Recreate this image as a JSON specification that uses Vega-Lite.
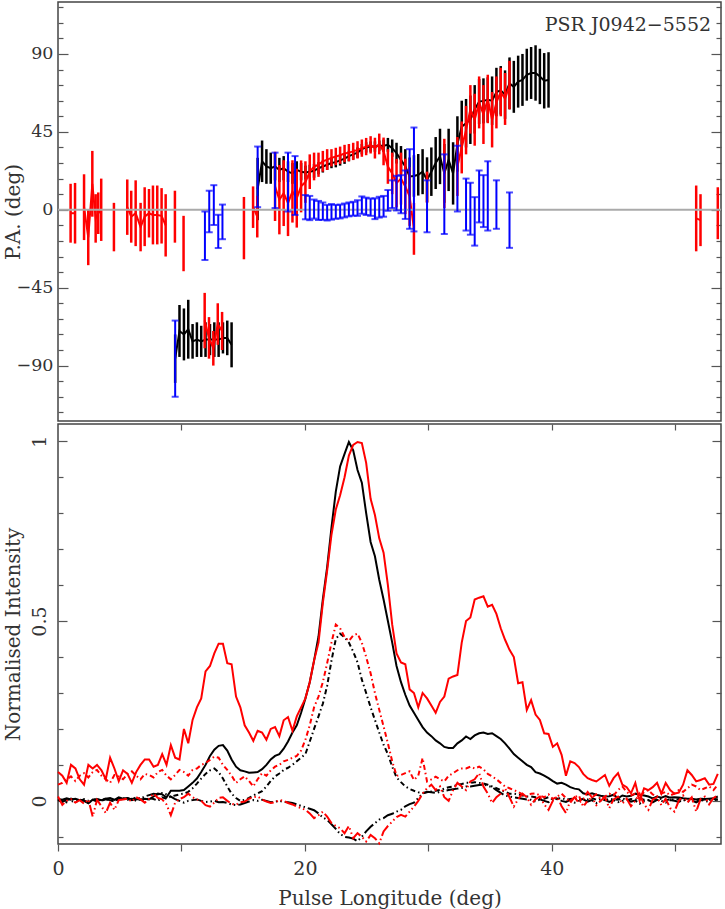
{
"$schema":"https://vega.github.io/schema/vega-lite/v6.json",
"background":"white",
"padding":{"left":2,"top":1,"right":3,"bottom":2},
"spacing":0,
"config":{"view":{"stroke":"#444","strokeWidth":1.5},"font":"DejaVu Serif",
"axis":{"labelFont":"DejaVu Serif","titleFont":"DejaVu Serif","labelColor":"#333","titleColor":"#333","titleFontWeight":"normal","domain":false,"grid":false,"tickColor":"#555","tickWidth":1.2,"labelFlush":false}},
"datasets":{
"pa":[
{"s":"r","g":1,"x":1.02,"pa":-2,"e":17},{"s":"r","g":1,"x":1.38,"pa":-2,"e":17.5},
{"s":"r","g":2,"x":2.11,"pa":1.5,"e":19},{"s":"r","g":2,"x":2.45,"pa":-16,"e":16},{"s":"r","g":2,"x":2.78,"pa":15,"e":19},{"s":"r","g":2,"x":3.05,"pa":-5,"e":14},{"s":"r","g":2,"x":3.26,"pa":-2,"e":12},{"s":"r","g":2,"x":3.5,"pa":0,"e":18},
{"s":"r","g":3,"x":4.53,"pa":-10,"e":14},
{"s":"r","g":4,"x":5.61,"pa":1.5,"e":16},{"s":"r","g":4,"x":5.93,"pa":-4,"e":15},{"s":"r","g":4,"x":6.29,"pa":-2,"e":19},{"s":"r","g":4,"x":6.69,"pa":-10,"e":14},{"s":"r","g":4,"x":7.02,"pa":-4,"e":17},{"s":"r","g":4,"x":7.37,"pa":-2,"e":14},{"s":"r","g":4,"x":7.69,"pa":-3,"e":17},{"s":"r","g":4,"x":8.04,"pa":-3,"e":17},{"s":"r","g":4,"x":8.39,"pa":-3.5,"e":16},{"s":"r","g":4,"x":8.72,"pa":-9,"e":18},
{"s":"r","g":5,"x":9.47,"pa":-4,"e":15},
{"s":"r","g":6,"x":10.17,"pa":-19.5,"e":16},
{"s":"r","g":7,"x":11.88,"pa":-64,"e":16},{"s":"r","g":7,"x":12.23,"pa":-74,"e":12},{"s":"r","g":7,"x":12.58,"pa":-80,"e":10},{"s":"r","g":7,"x":12.94,"pa":-66,"e":12},{"s":"r","g":7,"x":13.29,"pa":-70,"e":11},
{"s":"r","g":8,"x":15.06,"pa":-10.6,"e":18},
{"s":"r","g":9,"x":15.8,"pa":1.5,"e":12},{"s":"r","g":9,"x":16.14,"pa":-4,"e":12},
{"s":"r","g":10,"x":17.58,"pa":13.5,"e":20},{"s":"r","g":10,"x":17.93,"pa":5.8,"e":20},{"s":"r","g":10,"x":18.28,"pa":9.6,"e":19},{"s":"r","g":10,"x":18.63,"pa":3.8,"e":19},{"s":"r","g":10,"x":18.99,"pa":10.6,"e":18},{"s":"r","g":10,"x":19.34,"pa":6.7,"e":17},{"s":"r","g":10,"x":19.69,"pa":13.5,"e":15},{"s":"r","g":10,"x":20.04,"pa":16,"e":12},{"s":"r","g":10,"x":20.39,"pa":22,"e":10},{"s":"r","g":10,"x":20.74,"pa":25,"e":8},{"s":"r","g":10,"x":21.1,"pa":26,"e":7},{"s":"r","g":10,"x":21.45,"pa":28,"e":6},{"s":"r","g":10,"x":21.8,"pa":29,"e":6},{"s":"r","g":10,"x":22.15,"pa":30,"e":5},{"s":"r","g":10,"x":22.5,"pa":30.8,"e":5},{"s":"r","g":10,"x":22.85,"pa":31.5,"e":5},{"s":"r","g":10,"x":23.21,"pa":32.5,"e":5},{"s":"r","g":10,"x":23.56,"pa":33,"e":5},{"s":"r","g":10,"x":23.91,"pa":33.7,"e":5},{"s":"r","g":10,"x":24.26,"pa":34.6,"e":5},{"s":"r","g":10,"x":24.61,"pa":35.6,"e":5},{"s":"r","g":10,"x":24.96,"pa":36.5,"e":5},{"s":"r","g":10,"x":25.32,"pa":37.5,"e":5},{"s":"r","g":10,"x":25.67,"pa":35.6,"e":6},{"s":"r","g":10,"x":26.02,"pa":38,"e":6},{"s":"r","g":10,"x":26.37,"pa":33.7,"e":8},{"s":"r","g":10,"x":26.72,"pa":25,"e":10},{"s":"r","g":10,"x":27.07,"pa":21,"e":12},{"s":"r","g":10,"x":27.42,"pa":15.4,"e":14},{"s":"r","g":10,"x":27.78,"pa":18,"e":15},{"s":"r","g":10,"x":28.13,"pa":13.5,"e":16},{"s":"r","g":10,"x":28.48,"pa":7.7,"e":17},{"s":"r","g":10,"x":28.83,"pa":-11,"e":15},
{"s":"r","g":11,"x":29.89,"pa":13,"e":9},
{"s":"r","g":12,"x":31.29,"pa":21,"e":20},
{"s":"r","g":13,"x":32.35,"pa":25,"e":17},{"s":"r","g":13,"x":32.7,"pa":36,"e":15},{"s":"r","g":13,"x":33.05,"pa":46,"e":14},{"s":"r","g":13,"x":33.4,"pa":58,"e":14},{"s":"r","g":13,"x":33.75,"pa":52,"e":15},{"s":"r","g":13,"x":34.11,"pa":62,"e":15},{"s":"r","g":13,"x":34.46,"pa":55,"e":17},{"s":"r","g":13,"x":34.81,"pa":64,"e":14},{"s":"r","g":13,"x":35.16,"pa":52,"e":16},{"s":"r","g":13,"x":35.51,"pa":62,"e":15},{"s":"r","g":13,"x":35.86,"pa":68,"e":14},{"s":"r","g":13,"x":36.21,"pa":64,"e":15},{"s":"r","g":13,"x":36.57,"pa":72,"e":14},
{"s":"r","g":14,"x":51.69,"pa":-5,"e":19},{"s":"r","g":14,"x":52.04,"pa":-6,"e":15},
{"s":"r","g":15,"x":53.44,"pa":-2,"e":15},
{"s":"k","g":20,"x":9.49,"pa":-86,"e":14},{"s":"k","g":20,"x":9.84,"pa":-70,"e":15},{"s":"k","g":20,"x":10.2,"pa":-72,"e":15},{"s":"k","g":20,"x":10.55,"pa":-69,"e":17},{"s":"k","g":20,"x":10.9,"pa":-76,"e":10},{"s":"k","g":20,"x":11.25,"pa":-75,"e":10},{"s":"k","g":20,"x":11.6,"pa":-76,"e":9},{"s":"k","g":20,"x":11.95,"pa":-75,"e":10},{"s":"k","g":20,"x":12.31,"pa":-75,"e":9},{"s":"k","g":20,"x":12.66,"pa":-75,"e":10},{"s":"k","g":20,"x":13.01,"pa":-75,"e":10},{"s":"k","g":20,"x":13.36,"pa":-74,"e":9},{"s":"k","g":20,"x":13.71,"pa":-74,"e":10},{"s":"k","g":20,"x":14.06,"pa":-78,"e":13},
{"s":"k","g":21,"x":16.17,"pa":12,"e":18},{"s":"k","g":21,"x":16.53,"pa":28,"e":12},{"s":"k","g":21,"x":16.88,"pa":25,"e":10},{"s":"k","g":21,"x":17.23,"pa":24,"e":9},{"s":"k","g":21,"x":17.58,"pa":25,"e":8},{"s":"k","g":21,"x":17.93,"pa":23,"e":7},{"s":"k","g":21,"x":18.28,"pa":24,"e":7},{"s":"k","g":21,"x":18.63,"pa":22,"e":6},{"s":"k","g":21,"x":18.99,"pa":21,"e":6},{"s":"k","g":21,"x":19.34,"pa":23,"e":5},{"s":"k","g":21,"x":19.69,"pa":22,"e":5},{"s":"k","g":21,"x":20.04,"pa":21.5,"e":4},{"s":"k","g":21,"x":20.39,"pa":22,"e":4},{"s":"k","g":21,"x":20.74,"pa":22.5,"e":4},{"s":"k","g":21,"x":21.1,"pa":24,"e":3.5},{"s":"k","g":21,"x":21.45,"pa":25,"e":3.5},{"s":"k","g":21,"x":21.8,"pa":26,"e":3},{"s":"k","g":21,"x":22.15,"pa":27,"e":3},{"s":"k","g":21,"x":22.5,"pa":27.5,"e":3},{"s":"k","g":21,"x":22.85,"pa":28.5,"e":3},{"s":"k","g":21,"x":23.21,"pa":29.5,"e":3},{"s":"k","g":21,"x":23.56,"pa":31,"e":3},{"s":"k","g":21,"x":23.91,"pa":32,"e":3},{"s":"k","g":21,"x":24.26,"pa":33,"e":3},{"s":"k","g":21,"x":24.61,"pa":35,"e":3},{"s":"k","g":21,"x":24.96,"pa":36,"e":3},{"s":"k","g":21,"x":25.32,"pa":36.5,"e":3},{"s":"k","g":21,"x":25.67,"pa":36.5,"e":3},{"s":"k","g":21,"x":26.02,"pa":37,"e":3},{"s":"k","g":21,"x":26.37,"pa":37,"e":3.5},{"s":"k","g":21,"x":26.72,"pa":37.5,"e":4},{"s":"k","g":21,"x":27.07,"pa":35.6,"e":5},{"s":"k","g":21,"x":27.42,"pa":32.7,"e":6},{"s":"k","g":21,"x":27.78,"pa":28.8,"e":8},{"s":"k","g":21,"x":28.13,"pa":25,"e":10},{"s":"k","g":21,"x":28.48,"pa":19.2,"e":11},{"s":"k","g":21,"x":28.83,"pa":19.5,"e":12},{"s":"k","g":21,"x":29.18,"pa":20.2,"e":12},{"s":"k","g":21,"x":29.53,"pa":22,"e":13},{"s":"k","g":21,"x":29.89,"pa":17.3,"e":13},{"s":"k","g":21,"x":30.24,"pa":22,"e":14},{"s":"k","g":21,"x":30.59,"pa":27,"e":15},{"s":"k","g":21,"x":30.94,"pa":30.8,"e":16},{"s":"k","g":21,"x":31.29,"pa":21,"e":17},{"s":"k","g":21,"x":31.64,"pa":28.8,"e":18},{"s":"k","g":21,"x":32.0,"pa":21,"e":18},{"s":"k","g":21,"x":32.35,"pa":38,"e":16},{"s":"k","g":21,"x":32.7,"pa":48,"e":15},{"s":"k","g":21,"x":33.05,"pa":50,"e":14},{"s":"k","g":21,"x":33.4,"pa":52,"e":14},{"s":"k","g":21,"x":33.75,"pa":58,"e":14},{"s":"k","g":21,"x":34.11,"pa":62.5,"e":13},{"s":"k","g":21,"x":34.46,"pa":62.9,"e":13},{"s":"k","g":21,"x":34.81,"pa":63.5,"e":13},{"s":"k","g":21,"x":35.16,"pa":63,"e":14},{"s":"k","g":21,"x":35.51,"pa":68,"e":14},{"s":"k","g":21,"x":35.86,"pa":69,"e":14},{"s":"k","g":21,"x":36.21,"pa":66.5,"e":14},{"s":"k","g":21,"x":36.57,"pa":73,"e":15},{"s":"k","g":21,"x":36.92,"pa":71,"e":15},{"s":"k","g":21,"x":37.27,"pa":74,"e":15},{"s":"k","g":21,"x":37.62,"pa":75,"e":15},{"s":"k","g":21,"x":37.97,"pa":78,"e":15},{"s":"k","g":21,"x":38.32,"pa":79,"e":15},{"s":"k","g":21,"x":38.68,"pa":79,"e":16},{"s":"k","g":21,"x":39.03,"pa":77,"e":16},{"s":"k","g":21,"x":39.38,"pa":74.5,"e":16},{"s":"k","g":21,"x":39.73,"pa":75,"e":16},
{"s":"b","g":30,"x":9.49,"pa":-86,"e":22},
{"s":"b","g":30,"x":11.9,"pa":-15,"e":14},{"s":"b","g":30,"x":12.25,"pa":-1,"e":12},{"s":"b","g":30,"x":12.62,"pa":2.7,"e":11.5},{"s":"b","g":30,"x":12.98,"pa":-12.5,"e":9.6},{"s":"b","g":30,"x":13.32,"pa":-7,"e":10},
{"s":"b","g":30,"x":16.17,"pa":19,"e":17.5},{"s":"b","g":30,"x":17.58,"pa":17,"e":16},{"s":"b","g":30,"x":18.63,"pa":16,"e":17},{"s":"b","g":30,"x":19.2,"pa":14,"e":17},
{"s":"b","g":30,"x":20.04,"pa":1.5,"e":7},{"s":"b","g":30,"x":20.39,"pa":1,"e":7},{"s":"b","g":30,"x":20.74,"pa":0.4,"e":5.5},{"s":"b","g":30,"x":21.1,"pa":-0.4,"e":5.5},{"s":"b","g":30,"x":21.45,"pa":-0.8,"e":5},{"s":"b","g":30,"x":21.8,"pa":-1.7,"e":4.5},{"s":"b","g":30,"x":22.15,"pa":-1.2,"e":4.5},{"s":"b","g":30,"x":22.5,"pa":-1.2,"e":4},{"s":"b","g":30,"x":22.85,"pa":-1,"e":4},{"s":"b","g":30,"x":23.21,"pa":-0.4,"e":4},{"s":"b","g":30,"x":23.56,"pa":0.2,"e":4},{"s":"b","g":30,"x":23.91,"pa":0.6,"e":4},{"s":"b","g":30,"x":24.26,"pa":1,"e":4.5},{"s":"b","g":30,"x":24.61,"pa":2.7,"e":5},{"s":"b","g":30,"x":24.96,"pa":2,"e":5},{"s":"b","g":30,"x":25.32,"pa":1.5,"e":5},{"s":"b","g":30,"x":25.67,"pa":0.6,"e":6},{"s":"b","g":30,"x":26.02,"pa":1.5,"e":6},{"s":"b","g":30,"x":26.37,"pa":2,"e":6},{"s":"b","g":30,"x":26.72,"pa":5.4,"e":6},{"s":"b","g":30,"x":27.07,"pa":9,"e":8},{"s":"b","g":30,"x":27.42,"pa":9.6,"e":10},{"s":"b","g":30,"x":27.78,"pa":9,"e":11},{"s":"b","g":30,"x":28.13,"pa":8.7,"e":14},{"s":"b","g":30,"x":28.48,"pa":12,"e":23},{"s":"b","g":30,"x":28.83,"pa":17.5,"e":30},
{"s":"b","g":30,"x":29.89,"pa":2,"e":15},{"s":"b","g":30,"x":31.29,"pa":9,"e":23},{"s":"b","g":30,"x":32.35,"pa":18,"e":19},{"s":"b","g":30,"x":33.05,"pa":3,"e":15},{"s":"b","g":30,"x":33.4,"pa":0.6,"e":15},{"s":"b","g":30,"x":33.75,"pa":-6.7,"e":14},{"s":"b","g":30,"x":34.11,"pa":7.7,"e":15},{"s":"b","g":30,"x":34.46,"pa":5,"e":15},{"s":"b","g":30,"x":34.81,"pa":8,"e":20},{"s":"b","g":30,"x":35.51,"pa":3,"e":14},{"s":"b","g":30,"x":36.57,"pa":-6,"e":16}
],
"prof":[
{"x":0,"Ib":0.005,"Ir":0.08,"Lb":0.004,"Lr":0.045,"Vb":0.002,"Vr":0.012},
{"x":0.35,"Ib":0.003,"Ir":0.07,"Lb":0,"Lr":0.05,"Vb":-0.003,"Vr":-0.011},
{"x":0.7,"Ib":0.007,"Ir":0.05,"Lb":-0.004,"Lr":0.06,"Vb":0.004,"Vr":0},
{"x":1.05,"Ib":0.004,"Ir":0.1,"Lb":0.006,"Lr":0.068,"Vb":0,"Vr":0.005},
{"x":1.41,"Ib":0.006,"Ir":0.09,"Lb":0.002,"Lr":0.055,"Vb":-0.004,"Vr":-0.005},
{"x":1.76,"Ib":0.002,"Ir":0.06,"Lb":-0.003,"Lr":0.07,"Vb":0.003,"Vr":0.002},
{"x":2.11,"Ib":0,"Ir":0.045,"Lb":0.005,"Lr":0.077,"Vb":0.001,"Vr":-0.008},
{"x":2.46,"Ib":-0.007,"Ir":0.1,"Lb":0,"Lr":0.065,"Vb":-0.005,"Vr":0.004},
{"x":2.81,"Ib":0.003,"Ir":0.09,"Lb":0.003,"Lr":0.08,"Vb":0.002,"Vr":-0.044},
{"x":3.16,"Ib":0.005,"Ir":0.1,"Lb":-0.002,"Lr":0.086,"Vb":0.005,"Vr":0.003},
{"x":3.52,"Ib":0.002,"Ir":0.085,"Lb":0.004,"Lr":0.07,"Vb":0,"Vr":-0.015},
{"x":3.87,"Ib":0.006,"Ir":0.06,"Lb":0.006,"Lr":0.06,"Vb":0.004,"Vr":-0.034},
{"x":4.22,"Ib":0.008,"Ir":0.12,"Lb":0.002,"Lr":0.05,"Vb":0.002,"Vr":-0.005},
{"x":4.57,"Ib":0.003,"Ir":0.09,"Lb":0,"Lr":0.072,"Vb":-0.002,"Vr":-0.025},
{"x":4.92,"Ib":0.01,"Ir":0.055,"Lb":0.005,"Lr":0.068,"Vb":0.006,"Vr":0.002},
{"x":5.27,"Ib":0.006,"Ir":0.085,"Lb":0.008,"Lr":0.06,"Vb":0.003,"Vr":0.004},
{"x":5.63,"Ib":0.008,"Ir":0.075,"Lb":0.003,"Lr":0.075,"Vb":0.008,"Vr":0.006},
{"x":5.98,"Ib":0.002,"Ir":0.05,"Lb":0.006,"Lr":0.082,"Vb":0.004,"Vr":-0.002},
{"x":6.33,"Ib":0.005,"Ir":0.08,"Lb":0,"Lr":0.07,"Vb":0.01,"Vr":0.01},
{"x":6.68,"Ib":0.003,"Ir":0.1,"Lb":0.004,"Lr":0.06,"Vb":0.006,"Vr":0.004},
{"x":7.03,"Ib":0.006,"Ir":0.115,"Lb":0.002,"Lr":0.075,"Vb":0.012,"Vr":-0.005},
{"x":7.38,"Ib":0.004,"Ir":0.115,"Lb":0.007,"Lr":0.072,"Vb":0.016,"Vr":0.006},
{"x":7.74,"Ib":0.012,"Ir":0.095,"Lb":0.005,"Lr":0.065,"Vb":0.02,"Vr":0.02},
{"x":8.09,"Ib":0.02,"Ir":0.1,"Lb":0,"Lr":0.08,"Vb":0.018,"Vr":0.008},
{"x":8.44,"Ib":0.018,"Ir":0.13,"Lb":0.01,"Lr":0.086,"Vb":0.022,"Vr":0.004},
{"x":8.79,"Ib":0.01,"Ir":0.1,"Lb":0.006,"Lr":0.07,"Vb":0.018,"Vr":-0.01},
{"x":9.14,"Ib":0.028,"Ir":0.155,"Lb":0.012,"Lr":0.06,"Vb":0.012,"Vr":-0.04},
{"x":9.49,"Ib":0.028,"Ir":0.12,"Lb":0.015,"Lr":0.072,"Vb":0.005,"Vr":-0.005},
{"x":9.84,"Ib":0.028,"Ir":0.115,"Lb":0.018,"Lr":0.086,"Vb":0,"Vr":0.005},
{"x":10.2,"Ib":0.03,"Ir":0.2,"Lb":0.02,"Lr":0.08,"Vb":-0.005,"Vr":0.01},
{"x":10.55,"Ib":0.04,"Ir":0.16,"Lb":0.025,"Lr":0.07,"Vb":0,"Vr":0.02},
{"x":10.9,"Ib":0.05,"Ir":0.225,"Lb":0.035,"Lr":0.086,"Vb":0.002,"Vr":0.01},
{"x":11.25,"Ib":0.062,"Ir":0.26,"Lb":0.048,"Lr":0.09,"Vb":0.004,"Vr":0.004},
{"x":11.6,"Ib":0.08,"Ir":0.285,"Lb":0.062,"Lr":0.1,"Vb":0,"Vr":0},
{"x":11.95,"Ib":0.1,"Ir":0.36,"Lb":0.075,"Lr":0.105,"Vb":-0.003,"Vr":-0.012},
{"x":12.31,"Ib":0.125,"Ir":0.375,"Lb":0.085,"Lr":0.114,"Vb":-0.002,"Vr":-0.016},
{"x":12.66,"Ib":0.142,"Ir":0.41,"Lb":0.09,"Lr":0.123,"Vb":0,"Vr":-0.005},
{"x":13.01,"Ib":0.153,"Ir":0.437,"Lb":0.08,"Lr":0.12,"Vb":-0.004,"Vr":0.008},
{"x":13.36,"Ib":0.155,"Ir":0.437,"Lb":0.062,"Lr":0.1,"Vb":-0.003,"Vr":0.01},
{"x":13.71,"Ib":0.14,"Ir":0.383,"Lb":0.04,"Lr":0.086,"Vb":-0.006,"Vr":0},
{"x":14.06,"Ib":0.115,"Ir":0.38,"Lb":0.02,"Lr":0.07,"Vb":-0.01,"Vr":-0.008},
{"x":14.42,"Ib":0.095,"Ir":0.29,"Lb":0.008,"Lr":0.05,"Vb":-0.012,"Vr":-0.011},
{"x":14.77,"Ib":0.085,"Ir":0.26,"Lb":0,"Lr":0.06,"Vb":-0.01,"Vr":-0.004},
{"x":15.12,"Ib":0.082,"Ir":0.21,"Lb":0.003,"Lr":0.068,"Vb":-0.006,"Vr":-0.002},
{"x":15.47,"Ib":0.078,"Ir":0.19,"Lb":0.008,"Lr":0.055,"Vb":-0.002,"Vr":0.006},
{"x":15.82,"Ib":0.079,"Ir":0.167,"Lb":0.015,"Lr":0.04,"Vb":0.002,"Vr":0.01},
{"x":16.17,"Ib":0.08,"Ir":0.195,"Lb":0.021,"Lr":0.06,"Vb":0,"Vr":0.012},
{"x":16.53,"Ib":0.088,"Ir":0.19,"Lb":0.027,"Lr":0.077,"Vb":0.003,"Vr":0.004},
{"x":16.88,"Ib":0.1,"Ir":0.17,"Lb":0.04,"Lr":0.07,"Vb":0,"Vr":-0.002},
{"x":17.23,"Ib":0.115,"Ir":0.2,"Lb":0.055,"Lr":0.085,"Vb":-0.004,"Vr":-0.006},
{"x":17.58,"Ib":0.125,"Ir":0.205,"Lb":0.068,"Lr":0.095,"Vb":-0.002,"Vr":-0.004},
{"x":17.93,"Ib":0.13,"Ir":0.18,"Lb":0.076,"Lr":0.1,"Vb":0,"Vr":0.002},
{"x":18.28,"Ib":0.145,"Ir":0.224,"Lb":0.086,"Lr":0.11,"Vb":-0.003,"Vr":0},
{"x":18.63,"Ib":0.165,"Ir":0.233,"Lb":0.092,"Lr":0.114,"Vb":-0.004,"Vr":-0.006},
{"x":18.99,"Ib":0.19,"Ir":0.195,"Lb":0.1,"Lr":0.12,"Vb":-0.006,"Vr":-0.01},
{"x":19.34,"Ib":0.21,"Ir":0.235,"Lb":0.11,"Lr":0.125,"Vb":-0.01,"Vr":-0.016},
{"x":19.69,"Ib":0.245,"Ir":0.26,"Lb":0.12,"Lr":0.14,"Vb":-0.014,"Vr":-0.02},
{"x":20.04,"Ib":0.285,"Ir":0.285,"Lb":0.13,"Lr":0.17,"Vb":-0.018,"Vr":-0.025},
{"x":20.39,"Ib":0.33,"Ir":0.33,"Lb":0.165,"Lr":0.21,"Vb":-0.022,"Vr":-0.035},
{"x":20.74,"Ib":0.39,"Ir":0.39,"Lb":0.2,"Lr":0.26,"Vb":-0.026,"Vr":-0.048},
{"x":21.1,"Ib":0.457,"Ir":0.44,"Lb":0.235,"Lr":0.29,"Vb":-0.035,"Vr":-0.04},
{"x":21.45,"Ib":0.56,"Ir":0.55,"Lb":0.27,"Lr":0.33,"Vb":-0.046,"Vr":-0.03},
{"x":21.8,"Ib":0.65,"Ir":0.64,"Lb":0.32,"Lr":0.383,"Vb":-0.053,"Vr":-0.044},
{"x":22.15,"Ib":0.76,"Ir":0.74,"Lb":0.39,"Lr":0.44,"Vb":-0.065,"Vr":-0.062},
{"x":22.5,"Ib":0.86,"Ir":0.81,"Lb":0.45,"Lr":0.49,"Vb":-0.078,"Vr":-0.07},
{"x":22.85,"Ib":0.93,"Ir":0.85,"Lb":0.465,"Lr":0.48,"Vb":-0.092,"Vr":-0.076},
{"x":23.21,"Ib":0.965,"Ir":0.9,"Lb":0.455,"Lr":0.455,"Vb":-0.1,"Vr":-0.09},
{"x":23.56,"Ib":0.998,"Ir":0.96,"Lb":0.44,"Lr":0.445,"Vb":-0.102,"Vr":-0.07},
{"x":23.91,"Ib":0.975,"Ir":0.99,"Lb":0.415,"Lr":0.46,"Vb":-0.105,"Vr":-0.104},
{"x":24.26,"Ib":0.92,"Ir":0.998,"Lb":0.385,"Lr":0.465,"Vb":-0.112,"Vr":-0.09},
{"x":24.61,"Ib":0.885,"Ir":0.995,"Lb":0.337,"Lr":0.44,"Vb":-0.1,"Vr":-0.1},
{"x":24.96,"Ib":0.8,"Ir":0.94,"Lb":0.3,"Lr":0.4,"Vb":-0.085,"Vr":-0.113},
{"x":25.32,"Ib":0.72,"Ir":0.84,"Lb":0.26,"Lr":0.355,"Vb":-0.072,"Vr":-0.095},
{"x":25.67,"Ib":0.68,"Ir":0.795,"Lb":0.225,"Lr":0.3,"Vb":-0.062,"Vr":-0.104},
{"x":26.02,"Ib":0.615,"Ir":0.73,"Lb":0.19,"Lr":0.253,"Vb":-0.052,"Vr":-0.118},
{"x":26.37,"Ib":0.56,"Ir":0.69,"Lb":0.156,"Lr":0.207,"Vb":-0.048,"Vr":-0.085},
{"x":26.72,"Ib":0.5,"Ir":0.6,"Lb":0.13,"Lr":0.16,"Vb":-0.04,"Vr":-0.07},
{"x":27.07,"Ib":0.44,"Ir":0.49,"Lb":0.095,"Lr":0.11,"Vb":-0.036,"Vr":-0.058},
{"x":27.42,"Ib":0.375,"Ir":0.41,"Lb":0.065,"Lr":0.07,"Vb":-0.03,"Vr":-0.045},
{"x":27.78,"Ib":0.33,"Ir":0.385,"Lb":0.052,"Lr":0.072,"Vb":-0.025,"Vr":-0.039},
{"x":28.13,"Ib":0.295,"Ir":0.38,"Lb":0.04,"Lr":0.077,"Vb":-0.015,"Vr":-0.044},
{"x":28.48,"Ib":0.265,"Ir":0.31,"Lb":0.033,"Lr":0.082,"Vb":-0.009,"Vr":-0.03},
{"x":28.83,"Ib":0.245,"Ir":0.3,"Lb":0.028,"Lr":0.058,"Vb":-0.005,"Vr":-0.016},
{"x":29.18,"Ib":0.225,"Ir":0.26,"Lb":0.024,"Lr":0.07,"Vb":0.008,"Vr":0},
{"x":29.53,"Ib":0.205,"Ir":0.3,"Lb":0.022,"Lr":0.119,"Vb":0.02,"Vr":0.02},
{"x":29.89,"Ib":0.19,"Ir":0.285,"Lb":0.024,"Lr":0.054,"Vb":0.025,"Vr":0.035},
{"x":30.24,"Ib":0.18,"Ir":0.265,"Lb":0.026,"Lr":0.06,"Vb":0.024,"Vr":0.045},
{"x":30.59,"Ib":0.168,"Ir":0.245,"Lb":0.028,"Lr":0.067,"Vb":0.022,"Vr":0.03},
{"x":30.94,"Ib":0.16,"Ir":0.275,"Lb":0.03,"Lr":0.06,"Vb":0.025,"Vr":0.04},
{"x":31.29,"Ib":0.15,"Ir":0.29,"Lb":0.034,"Lr":0.054,"Vb":0.028,"Vr":0.01},
{"x":31.64,"Ib":0.147,"Ir":0.34,"Lb":0.038,"Lr":0.07,"Vb":0.03,"Vr":0},
{"x":32.0,"Ib":0.147,"Ir":0.346,"Lb":0.04,"Lr":0.077,"Vb":0.032,"Vr":0.03},
{"x":32.35,"Ib":0.16,"Ir":0.35,"Lb":0.045,"Lr":0.085,"Vb":0.034,"Vr":0.05},
{"x":32.7,"Ib":0.168,"Ir":0.44,"Lb":0.047,"Lr":0.09,"Vb":0.036,"Vr":0.04},
{"x":33.05,"Ib":0.179,"Ir":0.5,"Lb":0.05,"Lr":0.09,"Vb":0.04,"Vr":0.03},
{"x":33.4,"Ib":0.172,"Ir":0.51,"Lb":0.05,"Lr":0.095,"Vb":0.04,"Vr":0.054},
{"x":33.75,"Ib":0.182,"Ir":0.56,"Lb":0.052,"Lr":0.09,"Vb":0.042,"Vr":0.06},
{"x":34.11,"Ib":0.188,"Ir":0.565,"Lb":0.05,"Lr":0.095,"Vb":0.044,"Vr":0.077},
{"x":34.46,"Ib":0.19,"Ir":0.569,"Lb":0.048,"Lr":0.088,"Vb":0.045,"Vr":0.04},
{"x":34.81,"Ib":0.186,"Ir":0.54,"Lb":0.045,"Lr":0.075,"Vb":0.042,"Vr":0.02},
{"x":35.16,"Ib":0.188,"Ir":0.545,"Lb":0.04,"Lr":0.068,"Vb":0.038,"Vr":-0.006},
{"x":35.51,"Ib":0.18,"Ir":0.52,"Lb":0.035,"Lr":0.06,"Vb":0.03,"Vr":0.01},
{"x":35.86,"Ib":0.172,"Ir":0.48,"Lb":0.03,"Lr":0.05,"Vb":0.022,"Vr":0.02},
{"x":36.21,"Ib":0.16,"Ir":0.448,"Lb":0.025,"Lr":0.04,"Vb":0.015,"Vr":0.035},
{"x":36.57,"Ib":0.145,"Ir":0.42,"Lb":0.02,"Lr":0.035,"Vb":0.012,"Vr":0.01},
{"x":36.92,"Ib":0.13,"Ir":0.4,"Lb":0.02,"Lr":0.03,"Vb":0.01,"Vr":-0.016},
{"x":37.27,"Ib":0.12,"Ir":0.327,"Lb":0.018,"Lr":0.025,"Vb":0.008,"Vr":0.005},
{"x":37.62,"Ib":0.11,"Ir":0.33,"Lb":0.015,"Lr":0.018,"Vb":0.006,"Vr":0.02},
{"x":37.97,"Ib":0.1,"Ir":0.253,"Lb":0.012,"Lr":0.012,"Vb":0.004,"Vr":0.01},
{"x":38.32,"Ib":0.094,"Ir":0.28,"Lb":0.012,"Lr":0.02,"Vb":0.003,"Vr":-0.011},
{"x":38.68,"Ib":0.08,"Ir":0.24,"Lb":0.01,"Lr":0.021,"Vb":-0.002,"Vr":0.005},
{"x":39.03,"Ib":0.076,"Ir":0.225,"Lb":0.008,"Lr":0.015,"Vb":0.004,"Vr":0.012},
{"x":39.38,"Ib":0.07,"Ir":0.188,"Lb":0.006,"Lr":0.01,"Vb":0,"Vr":-0.01},
{"x":39.73,"Ib":0.063,"Ir":0.186,"Lb":0.01,"Lr":0.018,"Vb":-0.004,"Vr":-0.025},
{"x":40.08,"Ib":0.055,"Ir":0.15,"Lb":0.004,"Lr":0.005,"Vb":0.002,"Vr":0},
{"x":40.43,"Ib":0.048,"Ir":0.16,"Lb":0.006,"Lr":0.012,"Vb":0.005,"Vr":0.012},
{"x":40.79,"Ib":0.05,"Ir":0.128,"Lb":0.008,"Lr":0.02,"Vb":0,"Vr":-0.015},
{"x":41.14,"Ib":0.045,"Ir":0.07,"Lb":0.003,"Lr":0.008,"Vb":-0.003,"Vr":-0.034},
{"x":41.49,"Ib":0.038,"Ir":0.11,"Lb":0.005,"Lr":-0.005,"Vb":0.003,"Vr":0},
{"x":41.84,"Ib":0.034,"Ir":0.105,"Lb":0.007,"Lr":0.01,"Vb":-0.005,"Vr":0.01},
{"x":42.19,"Ib":0.032,"Ir":0.094,"Lb":0.002,"Lr":0.015,"Vb":0,"Vr":-0.006},
{"x":42.54,"Ib":0.021,"Ir":0.075,"Lb":0.006,"Lr":-0.016,"Vb":0.004,"Vr":0.005},
{"x":42.9,"Ib":0.018,"Ir":0.063,"Lb":0.004,"Lr":0,"Vb":-0.002,"Vr":0.025},
{"x":43.25,"Ib":0.021,"Ir":0.058,"Lb":0.008,"Lr":0.01,"Vb":0.002,"Vr":0.01},
{"x":43.6,"Ib":0.017,"Ir":0.054,"Lb":0.003,"Lr":0.018,"Vb":-0.006,"Vr":-0.012},
{"x":43.95,"Ib":0.014,"Ir":0.063,"Lb":0.005,"Lr":0.005,"Vb":0,"Vr":0},
{"x":44.3,"Ib":0.012,"Ir":0.072,"Lb":0.002,"Lr":0.012,"Vb":0.003,"Vr":0.01},
{"x":44.65,"Ib":0.013,"Ir":0.042,"Lb":0.006,"Lr":0.02,"Vb":-0.003,"Vr":-0.02},
{"x":45.0,"Ib":0.017,"Ir":0.063,"Lb":0.004,"Lr":0.015,"Vb":0.002,"Vr":0.004},
{"x":45.36,"Ib":0.007,"Ir":0.077,"Lb":0.003,"Lr":0.03,"Vb":-0.004,"Vr":0.012},
{"x":45.71,"Ib":0.015,"Ir":0.045,"Lb":0.007,"Lr":0.04,"Vb":0,"Vr":-0.008},
{"x":46.06,"Ib":0.012,"Ir":0.038,"Lb":0.002,"Lr":0.025,"Vb":0.004,"Vr":0.006},
{"x":46.41,"Ib":0.014,"Ir":0.021,"Lb":0.005,"Lr":0.015,"Vb":-0.002,"Vr":-0.015},
{"x":46.76,"Ib":0.02,"Ir":0.05,"Lb":0.004,"Lr":0.02,"Vb":0.001,"Vr":0},
{"x":47.11,"Ib":0.017,"Ir":0,"Lb":0.006,"Lr":0.01,"Vb":-0.008,"Vr":0.02},
{"x":47.47,"Ib":0.015,"Ir":0.035,"Lb":0.003,"Lr":0.025,"Vb":0,"Vr":-0.01},
{"x":47.82,"Ib":0.012,"Ir":0.03,"Lb":0.002,"Lr":0.03,"Vb":0.002,"Vr":-0.025},
{"x":48.17,"Ib":0.007,"Ir":0.038,"Lb":0.005,"Lr":0.018,"Vb":-0.004,"Vr":0.004},
{"x":48.52,"Ib":0.012,"Ir":0.05,"Lb":0.004,"Lr":0.012,"Vb":0.003,"Vr":0.01},
{"x":48.87,"Ib":0.009,"Ir":0.02,"Lb":0.006,"Lr":0.02,"Vb":0,"Vr":-0.012},
{"x":49.22,"Ib":0.013,"Ir":0.05,"Lb":0.002,"Lr":0.025,"Vb":-0.005,"Vr":0.006},
{"x":49.58,"Ib":0.009,"Ir":0.03,"Lb":0.004,"Lr":0.015,"Vb":0.002,"Vr":-0.02},
{"x":49.93,"Ib":0.01,"Ir":0.02,"Lb":0.003,"Lr":0.02,"Vb":0,"Vr":-0.03},
{"x":50.28,"Ib":0.009,"Ir":0.023,"Lb":0.005,"Lr":0.03,"Vb":-0.003,"Vr":0},
{"x":50.63,"Ib":0.007,"Ir":0.045,"Lb":0.002,"Lr":0.025,"Vb":0.003,"Vr":0.015},
{"x":50.98,"Ib":0.006,"Ir":0.085,"Lb":0.004,"Lr":0.035,"Vb":-0.002,"Vr":-0.005},
{"x":51.33,"Ib":0.006,"Ir":0.072,"Lb":0.006,"Lr":0.045,"Vb":0.001,"Vr":0.01},
{"x":51.69,"Ib":0.004,"Ir":0.054,"Lb":0.003,"Lr":0.04,"Vb":-0.004,"Vr":-0.03},
{"x":52.04,"Ib":0.006,"Ir":0.058,"Lb":0.002,"Lr":0.03,"Vb":0.002,"Vr":0.005},
{"x":52.39,"Ib":0.005,"Ir":0.063,"Lb":0.004,"Lr":0.035,"Vb":0,"Vr":0.012},
{"x":52.74,"Ib":0.006,"Ir":0.045,"Lb":0.003,"Lr":0.04,"Vb":-0.003,"Vr":-0.01},
{"x":53.09,"Ib":0.007,"Ir":0.047,"Lb":0.005,"Lr":0.03,"Vb":0.002,"Vr":0.008},
{"x":53.44,"Ib":0.012,"Ir":0.075,"Lb":0.004,"Lr":0.045,"Vb":0.004,"Vr":0.015}
]},
"vconcat":[
{"width":663,"height":419,"data":{"name":"pa"},
"resolve":{"axis":{"y":"independent"}},
"layer":[
{"transform":[{"filter":"datum.s === 'k'"}],
"mark":{"type":"errorbar","thickness":2.5},
"encoding":{
"x":{"field":"x","type":"quantitative","scale":{"domain":[0,53.7],"nice":false,"zero":false},
"axis":{"orient":"bottom","values":[10,20,30,40,50],"tickSize":-6,"labels":false,"title":null}},
"y":{"field":"pa","type":"quantitative","scale":{"domain":[-122,120],"nice":false,"zero":false},
"axis":{"orient":"left","values":[-117,-108,-99,-90,-81,-72,-63,-54,-45,-36,-27,-18,-9,0,9,18,27,36,45,54,63,72,81,90,99,108,117],
"tickSize":{"condition":{"test":"datum.value % 45 === 0","value":-10},"value":-5},
"labelExpr":"datum.value % 45 === 0 ? datum.label : ''","labelPadding":15,"labelFontSize":17.5,"labelAlign":"right","labelBaseline":"middle",
"title":"P.A. (deg)","titleFontSize":20,"titlePadding":6.5,"titleBaseline":"alphabetic","minExtent":32,"maxExtent":32}},
"yError":{"field":"e"},
"color":{"value":"black"}}},
{"transform":[{"filter":"datum.s === 'k'"}],
"mark":{"type":"line","color":"black","strokeWidth":2},
"encoding":{
"x":{"field":"x","type":"quantitative","scale":{"domain":[0,53.7],"nice":false,"zero":false},"axis":null},
"y":{"field":"pa","type":"quantitative","scale":{"domain":[-122,120],"nice":false,"zero":false},
"axis":{"orient":"right","values":[-117,-108,-99,-90,-81,-72,-63,-54,-45,-36,-27,-18,-9,0,9,18,27,36,45,54,63,72,81,90,99,108,117],
"tickSize":{"condition":{"test":"datum.value % 45 === 0","value":-10},"value":-5},"labels":false,"title":null}},
"detail":{"field":"g"}}},
{"transform":[{"filter":"datum.s === 'r'"}],
"mark":{"type":"errorbar","thickness":2.5},
"encoding":{
"x":{"field":"x","type":"quantitative","scale":{"domain":[0,53.7],"nice":false,"zero":false},"axis":null},
"y":{"field":"pa","type":"quantitative","scale":{"domain":[-122,120],"nice":false,"zero":false},"axis":null},
"yError":{"field":"e"},
"color":{"value":"#ff0000"}}},
{"transform":[{"filter":"datum.s === 'r'"}],
"mark":{"type":"line","color":"#ff0000","strokeWidth":2},
"encoding":{
"x":{"field":"x","type":"quantitative","scale":{"domain":[0,53.7],"nice":false,"zero":false},"axis":null},
"y":{"field":"pa","type":"quantitative","scale":{"domain":[-122,120],"nice":false,"zero":false},"axis":null},
"detail":{"field":"g"}}},
{"data":{"values":[{"v":0}]},
"mark":{"type":"rule","color":"#aaaaaa","strokeWidth":2},
"encoding":{"y":{"field":"v","type":"quantitative","scale":{"domain":[-122,120],"nice":false,"zero":false},"axis":null}}},
{"transform":[{"filter":"datum.s === 'b'"}],
"mark":{"type":"errorbar","thickness":2,"ticks":{"size":7}},
"encoding":{
"x":{"field":"x","type":"quantitative","scale":{"domain":[0,53.7],"nice":false,"zero":false},"axis":null},
"y":{"field":"pa","type":"quantitative","scale":{"domain":[-122,120],"nice":false,"zero":false},"axis":null},
"yError":{"field":"e"},
"color":{"value":"#0000ff"}}},
{"data":{"values":[{"name":"PSR J0942−5552"}]},
"mark":{"type":"text","align":"right","baseline":"middle","font":"DejaVu Serif","fontSize":19,"color":"#333"},
"encoding":{"x":{"datum":52.9,"type":"quantitative","scale":{"domain":[0,53.7],"nice":false,"zero":false},"axis":null},
"y":{"datum":107,"type":"quantitative","scale":{"domain":[-122,120],"nice":false,"zero":false},"axis":null},
"text":{"field":"name"}}}
]},
{"width":663,"height":420,"data":{"name":"prof"},
"resolve":{"axis":{"x":"independent","y":"independent"}},
"layer":[
{"mark":{"type":"line","color":"black","strokeWidth":2,"strokeDash":[12,3,1.5,3,1.5,3]},
"encoding":{
"x":{"field":"x","type":"quantitative","scale":{"domain":[0,53.7],"nice":false,"zero":false},
"axis":{"orient":"bottom","values":[0,10,20,30,40,50],"tickSize":7,"labelExpr":"datum.value % 20 === 0 ? datum.label : ''","labelPadding":8,"labelFontSize":19,
"title":"Pulse Longitude (deg)","titleFontSize":20,"titlePadding":27,"titleBaseline":"alphabetic","minExtent":33,"maxExtent":33}},
"y":{"field":"Vb","type":"quantitative","scale":{"domain":[-0.12,1.048],"nice":false,"zero":false},
"axis":{"orient":"left","values":[-0.1,0,0.1,0.2,0.3,0.4,0.5,0.6,0.7,0.8,0.9,1],
"tickSize":{"condition":{"test":"datum.value === 0 || datum.value === 0.5 || datum.value === 1","value":-9},"value":-5},
"labelExpr":"(datum.value === 0 || datum.value === 0.5 || datum.value === 1) ? format(datum.value, '~g') : ''",
"labelAngle":-90,"labelAlign":"center","labelBaseline":"alphabetic","labelPadding":22,"labelFontSize":19,
"title":"Normalised Intensity","titleFontSize":20,"titlePadding":6.5,"titleBaseline":"alphabetic","minExtent":32,"maxExtent":32}}}},
{"mark":{"type":"line","color":"black","strokeWidth":2,"strokeDash":[5,3,1.5,3]},
"encoding":{
"x":{"field":"x","type":"quantitative","scale":{"domain":[0,53.7],"nice":false,"zero":false},
"axis":{"orient":"top","values":[10,20,30,40,50],"tickSize":-6,"labels":false,"title":null}},
"y":{"field":"Lb","type":"quantitative","scale":{"domain":[-0.12,1.048],"nice":false,"zero":false},
"axis":{"orient":"right","values":[-0.1,0,0.1,0.2,0.3,0.4,0.5,0.6,0.7,0.8,0.9,1],
"tickSize":{"condition":{"test":"datum.value === 0 || datum.value === 0.5 || datum.value === 1","value":-9},"value":-5},"labels":false,"title":null}}}},
{"mark":{"type":"line","color":"black","strokeWidth":2},
"encoding":{
"x":{"field":"x","type":"quantitative","scale":{"domain":[0,53.7],"nice":false,"zero":false},"axis":null},
"y":{"field":"Ib","type":"quantitative","scale":{"domain":[-0.12,1.048],"nice":false,"zero":false},"axis":null}}},
{"mark":{"type":"line","color":"#ff0000","strokeWidth":2,"strokeDash":[12,3,1.5,3,1.5,3]},
"encoding":{
"x":{"field":"x","type":"quantitative","scale":{"domain":[0,53.7],"nice":false,"zero":false},"axis":null},
"y":{"field":"Vr","type":"quantitative","scale":{"domain":[-0.12,1.048],"nice":false,"zero":false},"axis":null}}},
{"mark":{"type":"line","color":"#ff0000","strokeWidth":2,"strokeDash":[5,3,1.5,3]},
"encoding":{
"x":{"field":"x","type":"quantitative","scale":{"domain":[0,53.7],"nice":false,"zero":false},"axis":null},
"y":{"field":"Lr","type":"quantitative","scale":{"domain":[-0.12,1.048],"nice":false,"zero":false},"axis":null}}},
{"mark":{"type":"line","color":"#ff0000","strokeWidth":2},
"encoding":{
"x":{"field":"x","type":"quantitative","scale":{"domain":[0,53.7],"nice":false,"zero":false},"axis":null},
"y":{"field":"Ir","type":"quantitative","scale":{"domain":[-0.12,1.048],"nice":false,"zero":false},"axis":null}}}
]}
]
}
